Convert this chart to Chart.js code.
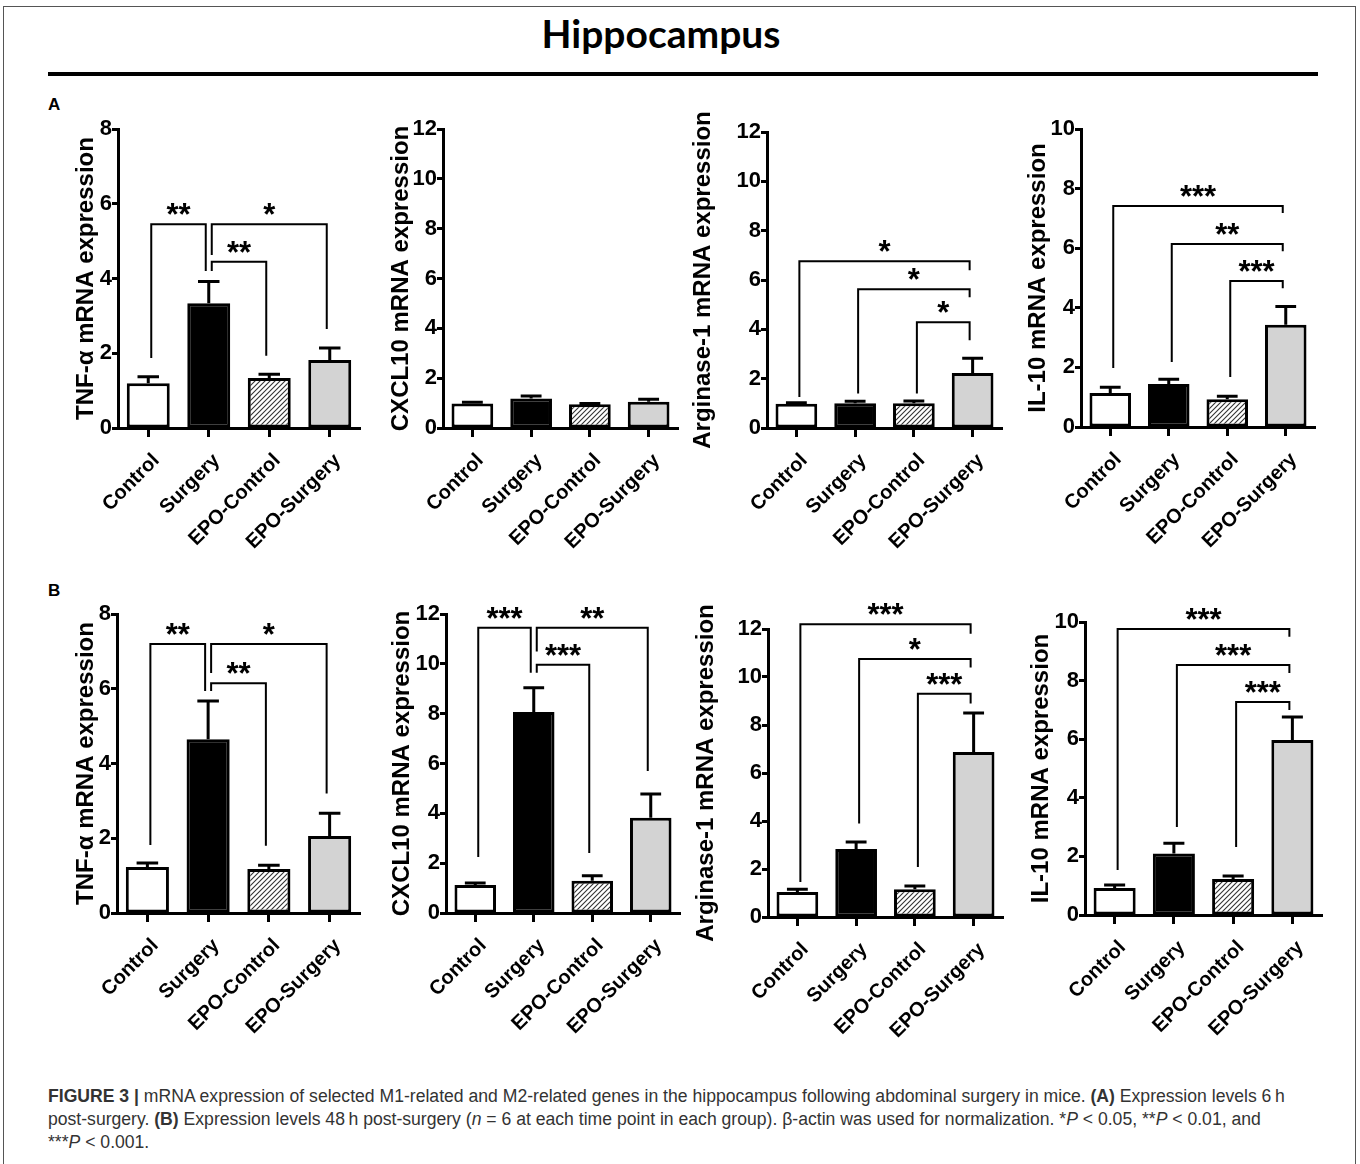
<!DOCTYPE html>
<html>
<head>
<meta charset="utf-8">
<script src="https://cdn.jsdelivr.net/npm/chart.js@4.4.1/dist/chart.umd.min.js"></script>
<style>
  body { margin: 0; background: #fff; width: 1360px; height: 1164px; position: relative; overflow: hidden; font-family: "Liberation Sans", Arial, sans-serif; }
  #frame { position: absolute; left: 3px; top: 6px; width: 1351px; height: 1200px; border: 1px solid #555; }
  #title { position: absolute; left: 0; top: 14px; width: 1322px; text-align: center; font: bold 39px/39px Lato, sans-serif; color: #000; }
  #rule { position: absolute; left: 48px; top: 72px; width: 1270px; height: 4px; background: #000; }
  .lab { position: absolute; left: 48px; font: bold 17px/17px "Liberation Sans", Arial, sans-serif; }
  canvas { position: absolute; }
  #caption { position: absolute; left: 48px; top: 1085px; font: 17.6px/23px "Liberation Sans", Arial, sans-serif; color: #333; white-space: nowrap; }
</style>
</head>
<body>
<div id="frame"></div>
<div id="title">Hippocampus</div>
<div id="rule"></div>
<div class="lab" style="top:96px">A</div>
<div class="lab" style="top:582px">B</div>
<div id="caption"><b>FIGURE 3 |</b> mRNA expression of selected M1-related and M2-related genes in the hippocampus following abdominal surgery in mice. <b>(A)</b> Expression levels 6&#8201;h<br>post-surgery. <b>(B)</b> Expression levels 48&#8201;h post-surgery (<i>n</i> = 6 at each time point in each group). β-actin was used for normalization. *<i>P</i> &lt; 0.05, **<i>P</i> &lt; 0.01, and<br>***<i>P</i> &lt; 0.001.</div>

<script>
const groups = ['Control', 'Surgery', 'EPO-Control', 'EPO-Surgery'];

// (A) 6 h post-surgery: means and upper SEM
const tnf6hMean = [1.2, 3.34, 1.34, 1.82];
const tnf6hErr = [0.17, 0.58, 0.1, 0.32];
const cxcl6hMean = [0.98, 1.18, 0.95, 1.05];
const cxcl6hErr = [0.05, 0.1, 0.03, 0.1];
const arg6hMean = [0.98, 1.0, 1.0, 2.23];
const arg6hErr = [0.04, 0.08, 0.09, 0.6];
const il6hMean = [1.14, 1.44, 0.93, 3.43];
const il6hErr = [0.19, 0.16, 0.1, 0.61];

// (B) 48 h post-surgery
const tnf48hMean = [1.23, 4.65, 1.18, 2.06];
const tnf48hErr = [0.11, 1.02, 0.1, 0.61];
const cxcl48hMean = [1.12, 8.07, 1.29, 3.82];
const cxcl48hErr = [0.08, 0.97, 0.2, 0.96];
const arg48hMean = [1.04, 2.83, 1.16, 6.87];
const arg48hErr = [0.12, 0.29, 0.13, 1.63];
const il48hMean = [0.92, 2.1, 1.23, 5.97];
const il48hErr = [0.1, 0.35, 0.1, 0.79];

// significance brackets: [from group, to group, bracket level, from-leg end, to-leg end, label]
const tnf6hBrackets = [
  [0, 1, 5.45, 1.87, 4.2, '**'],
  [1, 3, 5.45, 4.63, 2.65, '*'],
  [1, 2, 4.45, 4.2, 1.93, '**'],
];
const cxcl6hBrackets = [];
const arg6hBrackets = [
  [0, 3, 6.76, 1.26, 6.4, '*'],
  [1, 3, 5.63, 1.4, 5.3, '*'],
  [2, 3, 4.29, 1.4, 3.56, '*'],
];
const il6hBrackets = [
  [0, 3, 7.42, 1.98, 7.18, '***'],
  [1, 3, 6.14, 2.18, 5.9, '**'],
  [2, 3, 4.9, 1.68, 4.66, '***'],
];
const tnf48hBrackets = [
  [0, 1, 7.2, 1.82, 5.94, '**'],
  [1, 3, 7.2, 6.42, 3.2, '*'],
  [1, 2, 6.15, 5.94, 1.8, '**'],
];
const cxcl48hBrackets = [
  [0, 1, 11.45, 2.25, 9.64, '***'],
  [1, 3, 11.45, 10.5, 5.7, '**'],
  [1, 2, 9.96, 9.64, 2.41, '***'],
];
const arg48hBrackets = [
  [0, 3, 12.2, 1.46, 11.8, '***'],
  [1, 3, 10.75, 3.9, 10.4, '*'],
  [2, 3, 9.3, 2.08, 8.9, '***'],
];
const il48hBrackets = [
  [0, 3, 9.76, 1.54, 9.5, '***'],
  [1, 3, 8.53, 3.0, 8.26, '***'],
  [2, 3, 7.27, 2.32, 7.0, '***'],
];

const panels = [
  { title: 'TNF-\u03b1 mRNA expression', means: tnf6hMean, errs: tnf6hErr, brackets: tnf6hBrackets, max: 8, x0: 118, x1: 360, yTop: 129, yBot: 428, titleOff: 32 },
  { title: 'CXCL10 mRNA expression', means: cxcl6hMean, errs: cxcl6hErr, brackets: cxcl6hBrackets, max: 12, x0: 443, x1: 678, yTop: 129, yBot: 428, titleOff: 42 },
  { title: 'Arginase-1 mRNA expression', means: arg6hMean, errs: arg6hErr, brackets: arg6hBrackets, max: 12, x0: 767, x1: 1002, yTop: 132, yBot: 428, titleOff: 64 },
  { title: 'IL-10 mRNA expression', means: il6hMean, errs: il6hErr, brackets: il6hBrackets, max: 10, x0: 1081, x1: 1315, yTop: 129, yBot: 427, titleOff: 43 },
  { title: 'TNF-\u03b1 mRNA expression', means: tnf48hMean, errs: tnf48hErr, brackets: tnf48hBrackets, max: 8, x0: 117, x1: 360, yTop: 614, yBot: 913, titleOff: 31 },
  { title: 'CXCL10 mRNA expression', means: cxcl48hMean, errs: cxcl48hErr, brackets: cxcl48hBrackets, max: 12, x0: 446, x1: 680, yTop: 614, yBot: 913, titleOff: 44 },
  { title: 'Arginase-1 mRNA expression', means: arg48hMean, errs: arg48hErr, brackets: arg48hBrackets, max: 12, x0: 768, x1: 1003, yTop: 629, yBot: 917, titleOff: 62 },
  { title: 'IL-10 mRNA expression', means: il48hMean, errs: il48hErr, brackets: il48hBrackets, max: 10, x0: 1085, x1: 1322, yTop: 622, yBot: 915, titleOff: 44 },
];

function hatchPattern() {
  const c = document.createElement('canvas');
  c.width = 5;
  c.height = 5;
  const g = c.getContext('2d');
  g.fillStyle = '#fff';
  g.fillRect(0, 0, 5, 5);
  g.strokeStyle = '#333';
  g.lineWidth = 1.1;
  g.beginPath();
  g.moveTo(-1, 6); g.lineTo(6, -1);
  g.moveTo(-1, 1); g.lineTo(1, -1);
  g.moveTo(4, 6); g.lineTo(6, 4);
  g.stroke();
  return g.createPattern(c, 'repeat');
}

// error bars (upper SEM) and significance brackets
const marksPlugin = {
  id: 'marks',
  afterDatasetsDraw(chart, args, opts) {
    const { ctx } = chart;
    const x = chart.scales.x;
    const y = chart.scales.y;
    const meta = chart.getDatasetMeta(0);
    ctx.save();
    ctx.strokeStyle = '#000';
    ctx.fillStyle = '#000';
    ctx.lineWidth = 3;
    opts.errs.forEach((e, i) => {
      const bar = meta.data[i];
      const top = y.getPixelForValue(opts.means[i]);
      const cap = y.getPixelForValue(opts.means[i] + e);
      const half = bar.width * 0.25;
      ctx.beginPath();
      ctx.moveTo(bar.x, top);
      ctx.lineTo(bar.x, cap);
      ctx.moveTo(bar.x - half, cap);
      ctx.lineTo(bar.x + half, cap);
      ctx.stroke();
    });
    ctx.lineWidth = 2;
    ctx.font = 'bold 31px "Liberation Sans", Arial';
    ctx.textAlign = 'center';
    ctx.textBaseline = 'alphabetic';
    opts.brackets.forEach(([a, b, lvl, va, vb, txt]) => {
      const xa = x.getPixelForValue(a) + 3;
      const xb = x.getPixelForValue(b) - 3;
      const yy = y.getPixelForValue(lvl);
      ctx.beginPath();
      ctx.moveTo(xa, y.getPixelForValue(va));
      ctx.lineTo(xa, yy);
      ctx.lineTo(xb, yy);
      ctx.lineTo(xb, y.getPixelForValue(vb));
      ctx.stroke();
      ctx.fillText(txt, (xa + xb) / 2, yy + 1);
    });
    ctx.restore();
  }
};

const hatch = hatchPattern();
const PAD_TOP = 50;
const PAD_RIGHT = 12;
const X_H = 150;

panels.forEach((p) => {
  const yw = p.titleOff + 14;
  const canvas = document.createElement('canvas');
  canvas.width = yw + (p.x1 - p.x0) + PAD_RIGHT;
  canvas.height = PAD_TOP + (p.yBot - p.yTop) + X_H;
  canvas.style.left = (p.x0 - yw) + 'px';
  canvas.style.top = (p.yTop - PAD_TOP) + 'px';
  document.body.appendChild(canvas);

  new Chart(canvas, {
    type: 'bar',
    data: {
      labels: groups,
      datasets: [{
        data: p.means,
        backgroundColor: ['#ffffff', '#000000', hatch, '#d3d3d3'],
        borderColor: '#000',
        borderWidth: 3,
        borderSkipped: false,
        barPercentage: 0.71,
        categoryPercentage: 1,
      }],
    },
    options: {
      responsive: false,
      animation: false,
      devicePixelRatio: 1,
      layout: { padding: { top: PAD_TOP, right: PAD_RIGHT, left: 0, bottom: 0 } },
      plugins: {
        legend: { display: false },
        tooltip: { enabled: false },
        marks: { means: p.means, errs: p.errs, brackets: p.brackets },
      },
      scales: {
        x: {
          offset: true,
          grid: { offset: false, drawOnChartArea: false, drawTicks: true, tickLength: 9, tickWidth: 3, tickColor: '#000' },
          border: { display: true, color: '#000', width: 3 },
          ticks: { color: '#000', font: { family: 'Liberation Sans', weight: 'bold', size: 20 }, maxRotation: 45, minRotation: 45, padding: 12, labelOffset: 8 },
          afterFit: (s) => { s.height = X_H; s.paddingLeft = 0; s.paddingRight = 0; },
        },
        y: {
          min: 0,
          max: p.max,
          ticks: { stepSize: 2, color: '#000', font: { family: 'Liberation Sans', weight: 'bold', size: 22 }, padding: 0 },
          grid: { drawOnChartArea: false, drawTicks: true, tickLength: 6, tickWidth: 3, tickColor: '#000' },
          border: { display: true, color: '#000', width: 3 },
          title: { display: true, text: p.title, color: '#000', font: { family: 'Liberation Sans', weight: 'bold', size: 24, lineHeight: 1 }, padding: { top: 2, bottom: 0 } },
          afterFit: (s) => { s.width = yw; },
        },
      },
    },
    plugins: [marksPlugin],
  });
});
</script>
</body>
</html>
